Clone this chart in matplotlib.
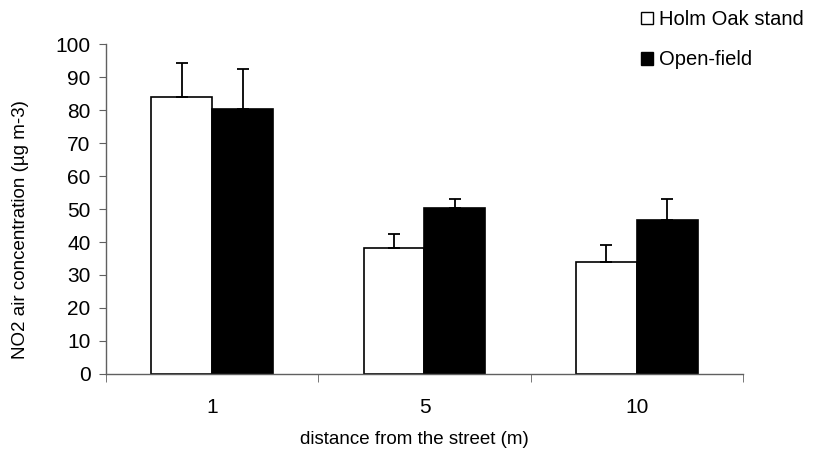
import matplotlib
matplotlib.use("Agg")
import matplotlib.pyplot as plt
import numpy as np
from matplotlib.patches import Patch

plt.rcParams["font.family"] = ["Liberation Sans", "DejaVu Sans"]

# data
distances = ["1", "5", "10"]
holm_oak = [84.0, 38.1, 33.8]
holm_oak_err = [10.1, 4.3, 5.4]
open_field = [80.3, 50.4, 46.7]
open_field_err = [12.1, 2.6, 6.3]
series_labels = ["Holm Oak stand", "Open-field"]

fig = plt.figure(figsize=(8.17, 4.5), dpi=100)
ax = fig.add_axes([0.1297, 0.1689, 0.7797, 0.7333])

x = np.arange(len(distances))
w = 0.287
err_kw = dict(ecolor="black", elinewidth=1.3, capsize=4.5, capthick=1.3)
ax.bar(x - w / 2, holm_oak, w, color="white", edgecolor="black", linewidth=1.2,
       yerr=[np.zeros(3), holm_oak_err], error_kw=err_kw, zorder=2)
ax.bar(x + w / 2, open_field, w, color="black", edgecolor="black", linewidth=1.2,
       yerr=[np.zeros(3), open_field_err], error_kw=err_kw, zorder=2)

ax.set_xlim(-0.5, len(distances) - 0.5)
ax.set_ylim(0, 100)
ax.set_yticks(np.arange(0, 101, 10))
ax.set_xticks(x)
ax.set_xticklabels(distances)
ax.set_xticks(np.arange(-0.5, len(distances), 1.0), minor=True)
ax.tick_params(axis="x", which="major", length=0, pad=17, labelsize=15)
ax.tick_params(axis="x", which="minor", length=6, color="#606060")
ax.tick_params(axis="y", length=5, color="#606060", labelsize=15, pad=6)

for s in ("top", "right"):
    ax.spines[s].set_visible(False)
for s in ("left", "bottom"):
    ax.spines[s].set_color("#606060")
    ax.spines[s].set_linewidth(1.0)

# axis titles placed where the reference has them
fig.text(414 / 817, 1 - 439 / 450, "distance from the street (m)", fontsize=13.5,
         ha="center", va="center")
fig.text(21 / 817, 1 - 230 / 450, "NO2 air concentration (\u00b5g m-3)", fontsize=13.5,
         ha="center", va="center", rotation=90)

handles = [Patch(facecolor="white", edgecolor="black", linewidth=1.0),
           Patch(facecolor="black", edgecolor="black", linewidth=1.0)]
fig.legend(handles, series_labels, loc="upper left", bbox_to_anchor=(0.772, 1.0),
           frameon=False, fontsize=14.5, handlelength=0.6, handleheight=0.6,
           handletextpad=0.3, labelspacing=1.05, borderaxespad=0.1)

fig.savefig("out.png", dpi=100)
